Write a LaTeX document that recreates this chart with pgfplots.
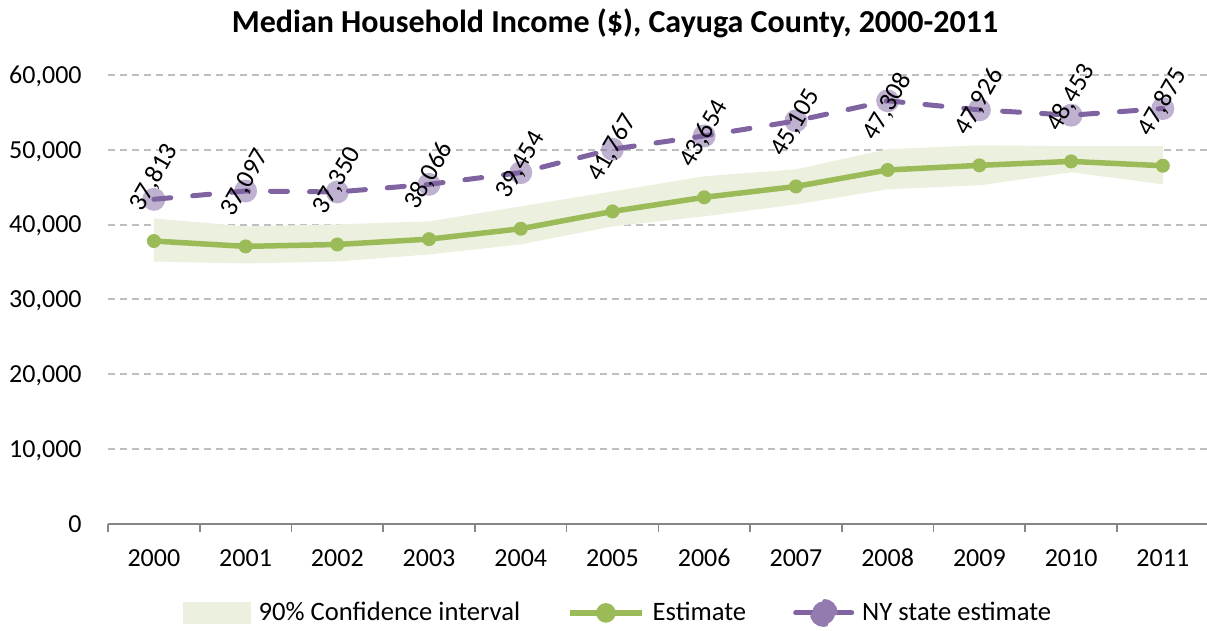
\documentclass[border=0pt]{standalone}
\usepackage{pgfplots}
\pgfplotsset{compat=1.18}
\usepackage{pgfplotstable}
\usepgfplotslibrary{fillbetween}
\usepackage{fontspec}
\setmainfont{Carlito}

\definecolor{estgreen}{HTML}{9BBB59}
\definecolor{bandgreen}{HTML}{EBF1DE}
\definecolor{nypurple}{HTML}{8064A2}
\definecolor{gridgray}{HTML}{BFBFBF}
\definecolor{axisgray}{HTML}{868686}

% year index, estimate, 90% CI low/high, NY state estimate, label
\pgfplotstableread{
x  est   lo    hi    ny    lab
0  37813 35080 40840 43390 37,813
1  37097 34810 39770 44500 37,097
2  37350 35080 40040 44370 37,350
3  38066 36020 40440 45390 38,066
4  39454 37360 42450 46960 39,454
5  41767 39770 44450 50080 41,767
6  43654 41110 46460 51860 43,654
7  45105 42710 47400 53870 45,105
8  47308 44720 50080 56550 47,308
9  47926 45260 50610 55340 47,926
10 48453 47000 50480 54630 48,453
11 47875 45390 50480 55520 47,875
}\incometable

\newcommand{\ticksize}{\fontsize{13}{15}\selectfont}

\begin{document}
\begin{tikzpicture}
\begin{axis}[
  at={(0,0)}, anchor=south west,
  scale only axis,
  width=550.35pt, height=224.5pt,
  xmin=-0.5, xmax=11.5,
  ymin=0, ymax=60000,
  xtick={0,...,11},
  xticklabels={2000,2001,2002,2003,2004,2005,2006,2007,2008,2009,2010,2011},
  minor xtick={-0.5,0.5,...,11.5},
  ytick={0,10000,...,60000},
  major tick length=0pt,
  minor tick length=4pt,
  tick align=outside,
  minor tick style={axisgray, line width=0.8pt},
  axis x line*=bottom, axis y line*=left,
  x axis line style={axisgray, line width=0.8pt},
  y axis line style={draw=none},
  ymajorgrids,
  grid style={gridgray, line width=1pt, dash pattern=on 3.5pt off 2.5pt},
  scaled y ticks=false,
  yticklabel style={font=\ticksize, anchor=base east, inner sep=0pt,
    xshift=-13pt, yshift=-4.1pt,
    /pgf/number format/1000 sep={,}, /pgf/number format/assume math mode=true},
  xticklabel style={font=\ticksize, anchor=base, inner sep=0pt, yshift=-21.1pt},
  legend columns=3,
  legend style={at={(0.466,-0.198)}, anchor=center, draw=none, fill=none,
    font=\fontsize{13.3}{15}\selectfont, cells={anchor=west},
    nodes={inner sep=4pt},
    /tikz/every even column/.append style={column sep=19.5pt}},
]
\addplot[name path=up, draw=none, forget plot] table[x=x, y=hi]{\incometable};
\addplot[name path=lo, draw=none, forget plot] table[x=x, y=lo]{\incometable};
\addplot[fill=bandgreen, draw=none,
  legend image code/.code={\fill[bandgreen] (0pt,-5.5pt) rectangle (34pt,5.5pt);}]
  fill between[of=up and lo];
\addlegendentry{90\% Confidence interval}

\addplot[estgreen, line width=2.75pt, mark=*, mark size=3.5pt,
  mark options={line width=0pt, draw opacity=0, fill=estgreen},
  legend image code/.code={
    \draw[estgreen, line width=2.75pt, solid] (0pt,0pt) -- (36pt,0pt);
    \fill[estgreen] (18pt,0pt) circle (3.5pt);}]
  table[x=x, y=est]{\incometable};
\addlegendentry{Estimate}

\addplot[nypurple, line width=2.5pt, line cap=round, dash pattern=on 8.5pt off 11pt,
  mark=*, mark size=5.75pt,
  mark options={solid, line width=0pt, draw opacity=0, fill=nypurple, fill opacity=0.5},
  legend image code/.code={
    \draw[nypurple, line width=2.5pt, line cap=round, solid] (1.5pt,0pt) -- (29.5pt,0pt);
    \fill[nypurple!85!white, fill opacity=1] (15.5pt,0pt) circle (5.75pt);}]
  table[x=x, y=ny]{\incometable};
\addlegendentry{NY state estimate}

% value labels for the county estimate
\addplot[draw=none, mark=none, forget plot,
  nodes near coords, point meta=explicit symbolic,
  every node near coord/.append style={font=\fontsize{13}{15}\selectfont,
    anchor=center, inner sep=0pt, yshift=31.75pt, rotate=60}]
  table[x=x, y=est, meta=lab]{\incometable};
\end{axis}
\node[font=\bfseries\fontsize{16}{19}\selectfont] at (253.5pt,250.5pt)
  {Median Household Income (\$), Cayuga County, 2000-2011};
\pgfresetboundingbox
\useasboundingbox (-54pt,-53.5pt) rectangle (549.5pt,262pt);
\end{tikzpicture}
\end{document}
